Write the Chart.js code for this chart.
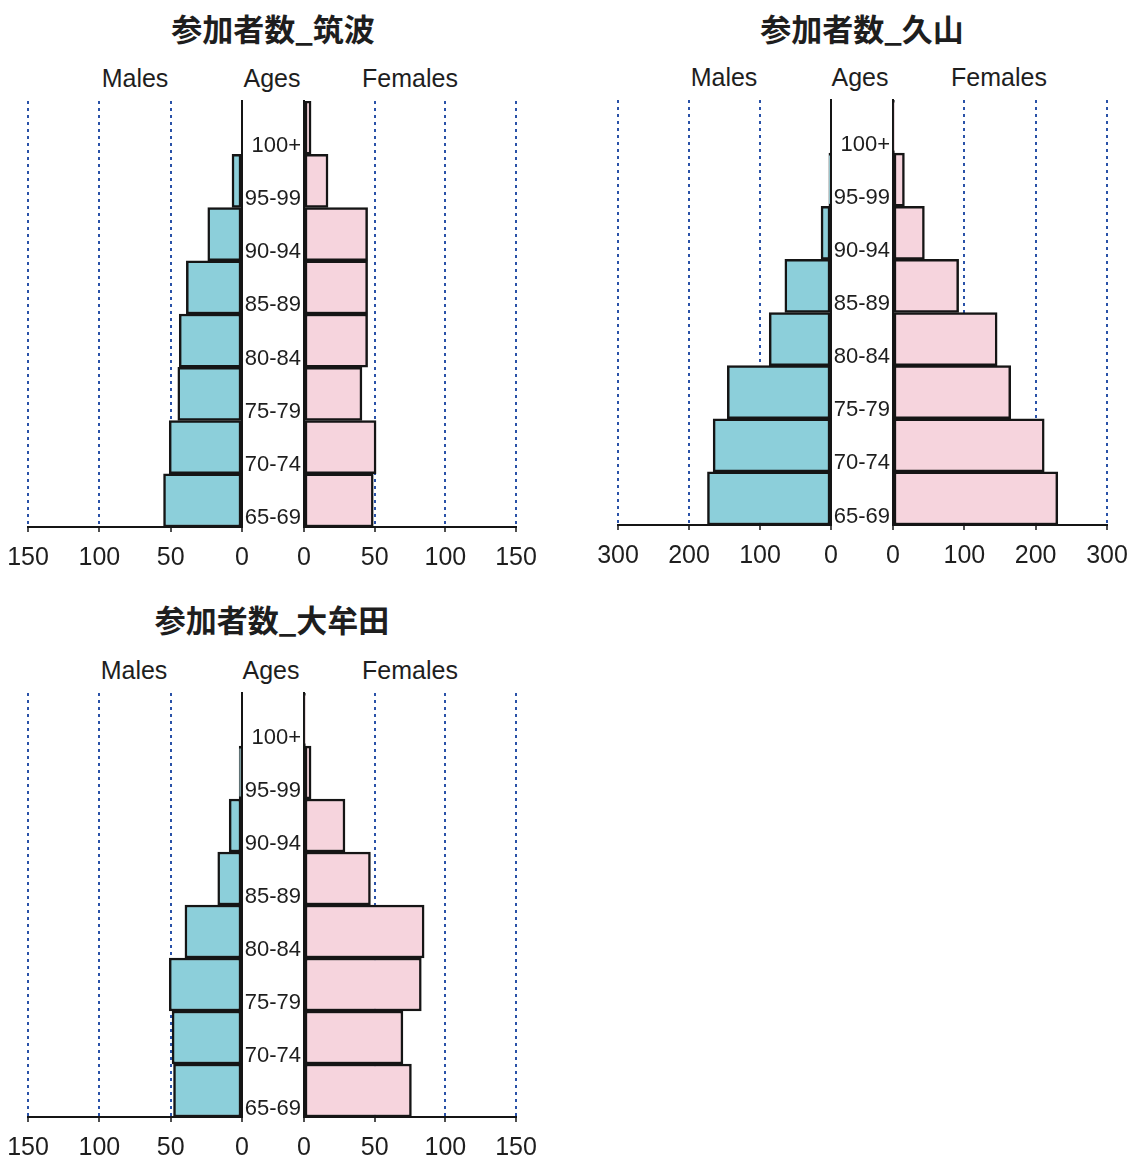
<!DOCTYPE html>
<html><head><meta charset="utf-8">
<script src="https://cdn.jsdelivr.net/npm/chart.js@4.4.1/dist/chart.umd.min.js"></script>
<style>
html,body{margin:0;padding:0;background:#fff;}
#stage{position:relative;width:1138px;height:1165px;overflow:hidden;background:#fff;}
canvas{position:absolute;}
.t{position:absolute;text-align:center;white-space:nowrap;color:#1e1e1e;}
.title{font-weight:bold;font-size:31px;font-family:'Noto Sans CJK JP','Noto Sans CJK SC',sans-serif;width:400px;line-height:36px;}
.hdr{font-size:25px;font-family:'Liberation Sans',Arial,sans-serif;width:200px;line-height:30px;}
</style></head><body><div id="stage"></div>
<script>
// ---- data ----
const ages = ['100+', '95-99', '90-94', '85-89', '80-84', '75-79', '70-74', '65-69'];
const tsukubaMales   = [0, 7, 24, 39, 44, 45, 51, 55];
const tsukubaFemales = [5, 17, 45, 45, 45, 41, 51, 49];
const kuyamaMales    = [0, 3, 14, 65, 87, 146, 166, 174];
const kuyamaFemales  = [2, 16, 44, 92, 146, 165, 212, 231];
const omutaMales     = [0, 2, 9, 17, 40, 51, 49, 48];
const omutaFemales   = [1, 5, 29, 47, 85, 83, 70, 76];
const titles = ['参加者数_筑波', '参加者数_久山', '参加者数_大牟田'];
const headers = ['Males', 'Ages', 'Females'];
const axisMax = [150, 300, 150];
const axisStep = [50, 100, 50];

// ---- layout / style ----
const FONT = "'Liberation Sans', Arial, sans-serif";
const MALE = '#8ccfda';
const FEMALE = '#f6d4dd';
const GRID = '#2a52a8';
const INK = '#151515';
const PADT = 22, XAXIS_H = 56, AGE_W = 62;
const layouts = [
  {mL:28,  mR:242, fL:304, fR:516,  top:101, bottom:527,  tX:273, tY:28,  hY:78,  hX:[135,272,410]},
  {mL:618, mR:831, fL:893, fR:1107, top:100, bottom:525,  tX:862, tY:28,  hY:77,  hX:[724,860,999]},
  {mL:28,  mR:242, fL:304, fR:516,  top:693, bottom:1117, tX:272, tY:619, hY:670, hX:[134,271,410]}
];
const seriesM = [tsukubaMales, kuyamaMales, omutaMales];
const seriesF = [tsukubaFemales, kuyamaFemales, omutaFemales];

const stage = document.getElementById('stage');
function addText(cls, txt, cx, cy, w, lh) {
  const d = document.createElement('div');
  d.className = 't ' + cls;
  d.textContent = txt;
  d.style.left = (cx - w / 2) + 'px';
  d.style.top = (cy - lh / 2) + 'px';
  stage.appendChild(d);
}
function makeCanvas(left, top, w, h) {
  const c = document.createElement('canvas');
  c.width = w; c.height = h;
  c.style.left = left + 'px'; c.style.top = top + 'px';
  c.style.width = w + 'px'; c.style.height = h + 'px';
  stage.appendChild(c);
  return c;
}
function xAxis(max, step, reverse) {
  return {
    type: 'linear', min: 0, max: max, reverse: reverse,
    ticks: {stepSize: step, color: '#1e1e1e', font: {family: FONT, size: 25}, padding: 11, maxRotation: 0, autoSkip: false},
    grid: {
      color: c => (c.tick && c.tick.value === 0) ? 'rgba(0,0,0,0)' : GRID,
      lineWidth: 2, drawTicks: true, tickLength: 5, tickColor: INK, tickWidth: 1.5
    },
    border: {display: true, color: INK, width: 2, dash: [3, 4]},
    afterFit: s => { s.height = XAXIS_H; }
  };
}
function barSet(data, color) {
  return {
    data: data, backgroundColor: color, borderColor: INK, borderWidth: 2.5,
    borderSkipped: false, categoryPercentage: 1.0, barPercentage: 1.0
  };
}
const common = {
  responsive: false, animation: false, devicePixelRatio: 1,
  indexAxis: 'y',
  plugins: {legend: {display: false}, tooltip: {enabled: false}, title: {display: false}}
};

layouts.forEach((L, i) => {
  addText('title', titles[i], L.tX, L.tY, 400, 36);
  headers.forEach((h, k) => addText('hdr', h, L.hX[k], L.hY, 200, 30));

  const plotH = L.bottom - L.top;
  // males (reversed axis, border on the right)
  const mPadL = 44, mPadR = 24;
  const mc = makeCanvas(L.mL - mPadL, L.top - PADT, (L.mR - L.mL) + mPadL + mPadR, plotH + PADT + XAXIS_H);
  new Chart(mc, {
    type: 'bar',
    data: {labels: ages, datasets: [barSet(seriesM[i], MALE)]},
    options: Object.assign({}, common, {
      layout: {padding: {top: PADT, left: mPadL, right: mPadR, bottom: 0}},
      scales: {
        x: xAxis(axisMax[i], axisStep[i], true),
        y: {
          type: 'category', position: 'right', offset: true,
          ticks: {display: false},
          grid: {display: false, drawTicks: false},
          border: {display: true, color: INK, width: 2},
          afterFit: s => { s.width = 0; }
        }
      }
    })
  });

  // females (age labels on the left axis)
  const fPadR = 44;
  const fc = makeCanvas(L.fL - AGE_W, L.top - PADT, AGE_W + (L.fR - L.fL) + fPadR, plotH + PADT + XAXIS_H);
  new Chart(fc, {
    type: 'bar',
    data: {labels: ages, datasets: [barSet(seriesF[i], FEMALE)]},
    options: Object.assign({}, common, {
      layout: {padding: {top: PADT, left: 0, right: fPadR, bottom: 0}},
      scales: {
        x: xAxis(axisMax[i], axisStep[i], false),
        y: {
          type: 'category', position: 'left', offset: true,
          ticks: {color: '#1e1e1e', font: {family: FONT, size: 22}, padding: 3, labelOffset: 18, autoSkip: false},
          grid: {display: false, drawTicks: false},
          border: {display: true, color: INK, width: 2},
          afterFit: s => { s.width = AGE_W; }
        }
      }
    })
  });
});
</script>
</body></html>
